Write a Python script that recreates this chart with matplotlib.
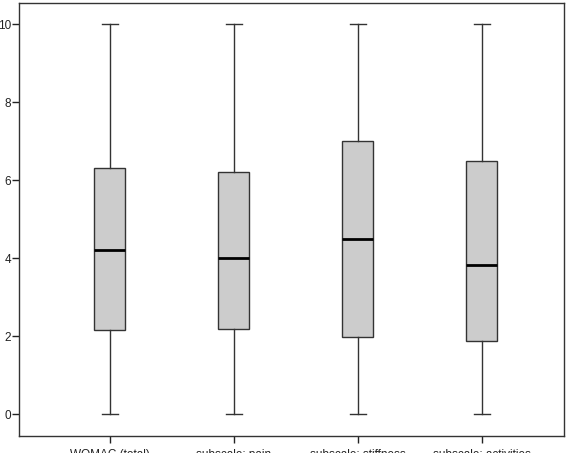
import matplotlib
matplotlib.use('Agg')
import matplotlib.pyplot as plt

# Box plot summary values
labels = ['WOMAC (total)', 'subscale: pain', 'subscale: stiffness', 'subscale: activities']
whisker_low = [0, 0, 0, 0]
q1 = [2.15, 2.19, 1.98, 1.88]
medians = [4.2, 4.0, 4.5, 3.82]
q3 = [6.32, 6.2, 7.0, 6.5]
whisker_high = [10, 10, 10, 10]

plt.rcParams['font.family'] = ['Liberation Sans', 'DejaVu Sans']

stats = []
for i in range(len(labels)):
    stats.append({'label': labels[i], 'whislo': whisker_low[i], 'q1': q1[i],
                  'med': medians[i], 'q3': q3[i], 'whishi': whisker_high[i]})

fig = plt.figure(figsize=(5.73, 4.53), dpi=100)
ax = fig.add_axes([0.034, 0.0375, 0.950, 0.956])

ax.bxp(stats, positions=range(len(labels)), widths=0.25, patch_artist=True,
       showfliers=False,
       boxprops=dict(facecolor='#cccccc', edgecolor='#333333', linewidth=1.0),
       medianprops=dict(color='black', linewidth=2.0),
       whiskerprops=dict(color='#333333', linewidth=1.0),
       capprops=dict(color='#333333', linewidth=1.0),
       capwidths=0.13)

ax.set_xlim(-0.726, 3.66)
ax.set_ylim(-0.56, 10.54)
ax.set_yticks([0, 2, 4, 6, 8, 10])
ax.tick_params(axis='both', direction='out', length=5, width=1, labelsize=8.5,
               pad=1, colors='#222222')
ax.tick_params(axis='x', pad=4)
for s in ax.spines.values():
    s.set_linewidth(1.0)
    s.set_color('#333333')

fig.savefig('out.png', dpi=100)
